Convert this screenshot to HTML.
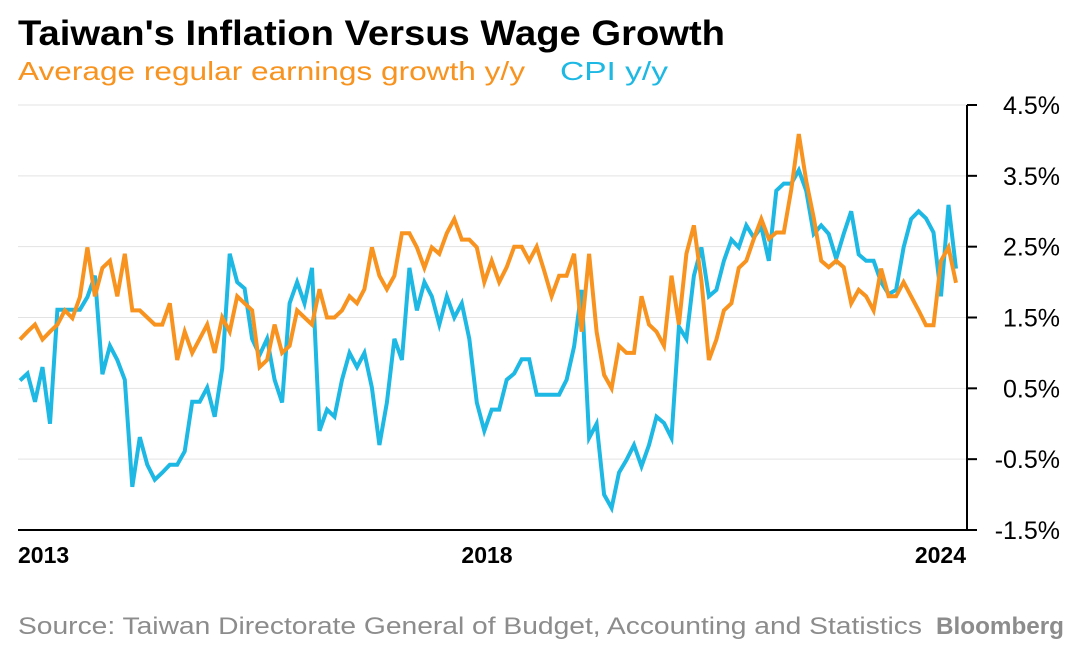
<!DOCTYPE html>
<html><head><meta charset="utf-8"><style>
html,body{margin:0;padding:0;background:#fff;}
svg{display:block;font-family:"Liberation Sans",sans-serif;}
</style></head><body>
<svg id="chart" width="1080" height="648" viewBox="0 0 1080 648">
<text x="18" y="45" font-size="35" font-weight="bold" fill="#000" textLength="707" lengthAdjust="spacingAndGlyphs">Taiwan's Inflation Versus Wage Growth</text>
<text x="18" y="80" font-size="26" fill="#f7931e" textLength="507" lengthAdjust="spacingAndGlyphs">Average regular earnings growth y/y</text>
<text x="560" y="80" font-size="26" fill="#1db8e3" textLength="108" lengthAdjust="spacingAndGlyphs">CPI y/y</text>
<g id="grid"></g>
<g id="yaxis"></g>
<g id="series"></g>
<line x1="18" y1="530" x2="977" y2="530" stroke="#000" stroke-width="2"/>
<line x1="967" y1="105" x2="967" y2="530" stroke="#000" stroke-width="2"/>
<text x="18" y="563" font-size="23" font-weight="bold">2013</text>
<text x="487" y="563" font-size="23" font-weight="bold" text-anchor="middle">2018</text>
<text x="966" y="563" font-size="23" font-weight="bold" text-anchor="end">2024</text>
<text x="18" y="634" font-size="24" fill="#8c8c8c" textLength="904" lengthAdjust="spacingAndGlyphs">Source: Taiwan Directorate General of Budget, Accounting and Statistics</text>
<text x="1064" y="634" font-size="24" font-weight="bold" fill="#8c8c8c" text-anchor="end" textLength="128" lengthAdjust="spacingAndGlyphs">Bloomberg</text>
</svg>
<script>
const yTicks = [4.5, 3.5, 2.5, 1.5, 0.5, -0.5, -1.5];
const yTickLabels = ["4.5%", "3.5%", "2.5%", "1.5%", "0.5%", "-0.5%", "-1.5%"];
const wages = [1.19,1.30,1.40,1.19,1.30,1.40,1.60,1.49,1.79,2.49,1.80,2.20,2.30,1.80,2.40,1.60,1.60,1.50,1.40,1.40,1.70,0.90,1.30,1.00,1.20,1.40,1.00,1.50,1.30,1.80,1.70,1.60,0.80,0.90,1.40,1.00,1.10,1.60,1.50,1.40,1.90,1.50,1.50,1.60,1.80,1.70,1.90,2.49,2.09,1.90,2.09,2.69,2.69,2.49,2.20,2.49,2.40,2.69,2.89,2.60,2.60,2.49,2.00,2.30,2.00,2.21,2.50,2.50,2.30,2.50,2.16,1.80,2.09,2.09,2.40,1.30,2.40,1.30,0.69,0.50,1.10,1.00,1.00,1.80,1.40,1.30,1.10,2.09,1.40,2.40,2.80,2.02,0.90,1.19,1.60,1.70,2.20,2.30,2.61,2.89,2.61,2.70,2.70,3.31,4.09,3.43,2.91,2.30,2.21,2.30,2.21,1.70,1.89,1.80,1.60,2.19,1.80,1.80,2.00,1.80,1.60,1.39,1.39,2.30,2.49,1.99];
const cpi = [0.61,0.71,0.31,0.80,0.00,1.61,1.61,1.61,1.61,1.79,2.09,0.70,1.10,0.90,0.62,-0.89,-0.19,-0.58,-0.79,-0.69,-0.58,-0.58,-0.39,0.31,0.31,0.51,0.10,0.78,2.40,2.00,1.91,1.20,0.97,1.20,0.62,0.30,1.70,2.00,1.70,2.20,-0.10,0.20,0.10,0.62,1.00,0.80,1.00,0.51,-0.30,0.30,1.20,0.90,2.20,1.60,2.00,1.80,1.40,1.80,1.50,1.70,1.20,0.30,-0.10,0.20,0.20,0.62,0.71,0.91,0.91,0.41,0.41,0.41,0.41,0.62,1.09,1.89,-0.20,0.00,-1.00,-1.19,-0.69,-0.51,-0.30,-0.60,-0.30,0.10,0.01,-0.20,1.37,1.20,2.09,2.49,1.80,1.89,2.30,2.60,2.49,2.80,2.63,2.78,2.30,3.29,3.39,3.39,3.58,3.29,2.68,2.80,2.68,2.33,2.68,3.00,2.39,2.30,2.30,2.00,1.83,1.89,2.49,2.89,3.00,2.90,2.70,1.80,3.09,2.19];
const NS = "http://www.w3.org/2000/svg";
const xLeft = 20, xRight = 956, yTop = 105, yBot = 530, vMax = 4.5, vMin = -1.5;
function xScale(i, n) { return xLeft + (xRight - xLeft) * i / (n - 1); }
function yScale(v) { return yTop + (vMax - v) / (vMax - vMin) * (yBot - yTop); }
const grid = document.getElementById('grid');
const yaxis = document.getElementById('yaxis');
yTicks.forEach((t, k) => {
  const y = yScale(t);
  if (t !== vMin) {
    const g = document.createElementNS(NS, 'line');
    g.setAttribute('x1', 18); g.setAttribute('x2', 967);
    g.setAttribute('y1', y); g.setAttribute('y2', y);
    g.setAttribute('stroke', '#e3e3e3'); g.setAttribute('stroke-width', 1);
    
    
    grid.appendChild(g);
  }
  const tk = document.createElementNS(NS, 'line');
  tk.setAttribute('x1', 967); tk.setAttribute('x2', 977);
  tk.setAttribute('y1', y); tk.setAttribute('y2', y);
  tk.setAttribute('stroke', '#000'); tk.setAttribute('stroke-width', 2);
  
  
  yaxis.appendChild(tk);
  const tx = document.createElementNS(NS, 'text');
  tx.setAttribute('x', 1060); tx.setAttribute('y', y + 9);
  tx.setAttribute('text-anchor', 'end'); tx.setAttribute('font-size', 25);
  tx.textContent = yTickLabels[k];
  
  
  yaxis.appendChild(tx);
});
function drawLine(vals, color, name) {
  const p = document.createElementNS(NS, 'polyline');
  p.setAttribute('points', vals.map((v, i) => xScale(i, vals.length).toFixed(1) + ',' + yScale(v).toFixed(1)).join(' '));
  p.setAttribute('fill', 'none'); p.setAttribute('stroke', color);
  p.setAttribute('stroke-width', 4); p.setAttribute('stroke-linejoin', 'miter');
  
  
  document.getElementById('series').appendChild(p);
}
drawLine(cpi, '#1db8e3', 'cpi-line');
drawLine(wages, '#f7931e', 'wages-line');
</script>
</body></html>
